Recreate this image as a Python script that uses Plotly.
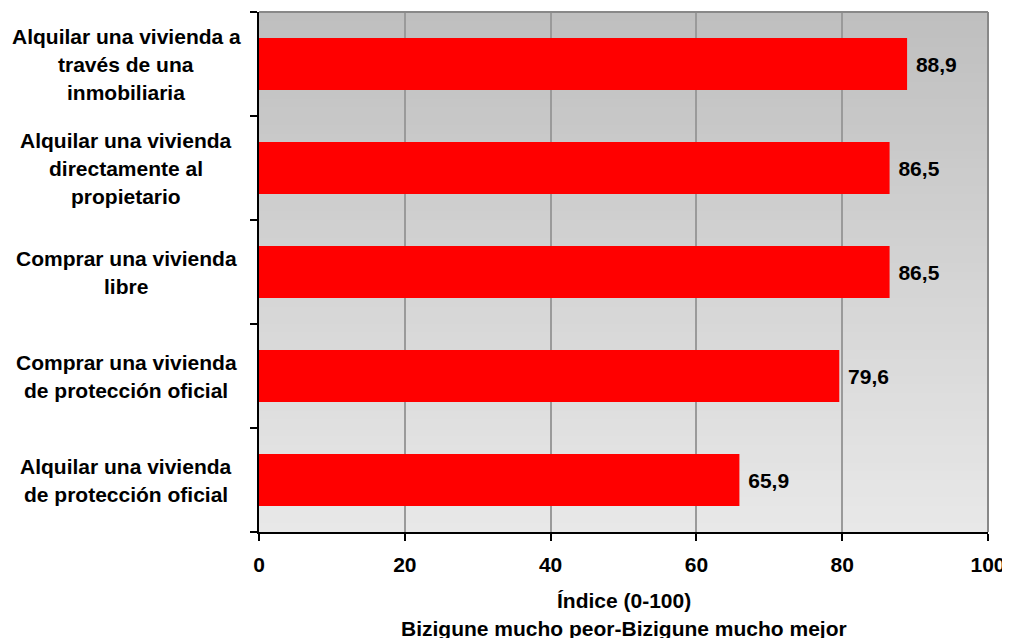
import plotly.graph_objects as go

categories = [
    "Alquilar una vivienda a<br>través de una<br>inmobiliaria",
    "Alquilar una vivienda<br>directamente al<br>propietario",
    "Comprar una vivienda<br>libre",
    "Comprar una vivienda<br>de protección oficial",
    "Alquilar una vivienda<br>de protección oficial",
]
values = [88.9, 86.5, 86.5, 79.6, 65.9]
x_ticks = [0, 20, 40, 60, 80, 100]
x_title_lines = ["Índice (0-100)", "Bizigune mucho peor-Bizigune mucho mejor"]

FONT = "Liberation Sans, Arial, sans-serif"
FS = 21
LINE_H = 28

fig = go.Figure()
fig.add_trace(go.Bar(
    x=values,
    y=categories,
    orientation="h",
    marker=dict(color="#ff0000", line=dict(width=0)),
    text=values,
    texttemplate=" <b>%{x:.1f}</b>",
    textposition="outside",
    textfont=dict(family=FONT, size=FS, color="black"),
    cliponaxis=False,
    hoverinfo="skip",
))

# vertical gradient background (dark at top, light at bottom)
n = 60
shapes = []
for i in range(n):
    t = i / (n - 1)
    g = int(round(232 - (232 - 191) * t))
    shapes.append(dict(
        type="rect", xref="x domain", yref="y domain",
        x0=0, x1=1, y0=i / n, y1=(i + 1) / n + 0.002,
        fillcolor=f"rgb({g},{g},{g})", line=dict(width=0), layer="below",
    ))
# grey top and right frame
shapes.append(dict(type="line", xref="x domain", yref="y domain", x0=0, x1=1, y0=1, y1=1,
                   line=dict(color="#888888", width=2), layer="above"))
shapes.append(dict(type="line", xref="x domain", yref="y domain", x0=1, x1=1, y0=0, y1=1,
                   line=dict(color="#888888", width=2), layer="above"))

annotations = []
for cat in categories:
    lines = cat.split("<br>")
    k = len(lines)
    for j, ln in enumerate(lines):
        annotations.append(dict(
            x=0, xref="paper", y=cat, yref="y",
            text=f"<b>{ln}</b>", showarrow=False,
            xanchor="center", yanchor="middle",
            xshift=-133, yshift=((k - 1) / 2 - j) * LINE_H,
            font=dict(family=FONT, size=FS, color="black"),
        ))
for j, ln in enumerate(x_title_lines):
    annotations.append(dict(
        x=0.5, xref="paper", y=0, yref="paper",
        text=f"<b>{ln}</b>", showarrow=False,
        xanchor="center", yanchor="middle",
        yshift=-68 - j * LINE_H,
        font=dict(family=FONT, size=FS, color="black"),
    ))

# page body adds an 8px offset, so the figure is sized to fit the window
fig.update_layout(
    width=1002, height=630,
    margin=dict(l=251, r=19, t=4, b=106),
    paper_bgcolor="white",
    plot_bgcolor="#e6e6e6",
    separators=",.",
    bargap=0.5,
    showlegend=False,
    font=dict(family=FONT, size=FS, color="black"),
    shapes=shapes,
    annotations=annotations,
    xaxis=dict(
        range=[0, 100], tickvals=x_ticks,
        ticktext=[f"<b>{v}</b>" for v in x_ticks],
        showgrid=True, gridcolor="#9a9a9a", gridwidth=2,
        showline=True, linecolor="black", linewidth=2,
        ticks="outside", ticklen=7, tickwidth=2, tickcolor="black",
        ticklabelstandoff=6,
        zeroline=False, fixedrange=True,
        tickfont=dict(family=FONT, size=FS, color="black"),
    ),
    yaxis=dict(
        categoryorder="array", categoryarray=categories[::-1],
        showticklabels=False, tickson="boundaries",
        ticks="outside", ticklen=7, tickwidth=2, tickcolor="black",
        showline=True, linecolor="black", linewidth=2,
        showgrid=False, zeroline=False, fixedrange=True,
    ),
)

fig.write_html("out.html")
